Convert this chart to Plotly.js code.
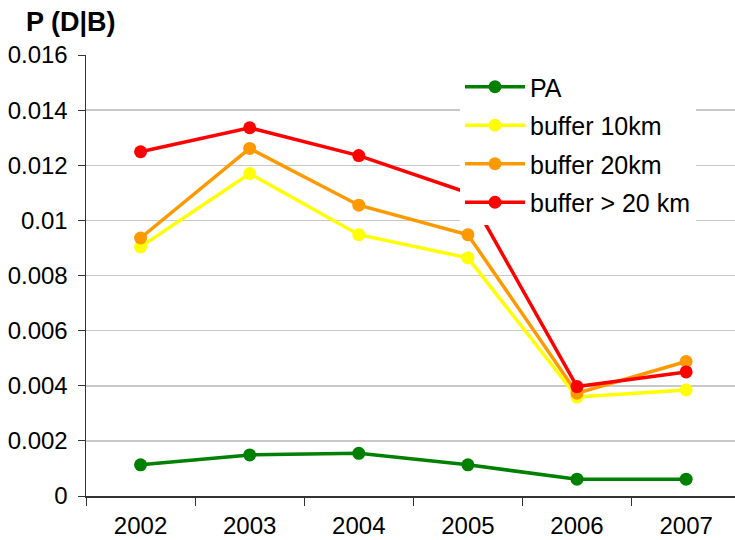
<!DOCTYPE html>
<html>
<head>
<meta charset="utf-8">
<script src="https://cdn.plot.ly/plotly-3.0.1.min.js"></script>
<style>html,body{margin:0;padding:0;background:#fff;}#chart{width:735px;height:540px;}</style>
</head>
<body>
<div id="chart"></div>
<script>
const years = ["2002", "2003", "2004", "2005", "2006", "2007"];
const seriesNames = ["PA", "buffer 10km", "buffer 20km", "buffer > 20 km"];
const pa = [0.00113, 0.00149, 0.00155, 0.00113, 0.00061, 0.00061];
const buffer10 = [0.00904, 0.0117, 0.00948, 0.00864, 0.00359, 0.00385];
const buffer20 = [0.00936, 0.01261, 0.01055, 0.00948, 0.00373, 0.00488];
const bufferOver20 = [0.01249, 0.01336, 0.01235, 0.0110, 0.00397, 0.0045];
const colors = ["#008000", "#FFFF00", "#FF9900", "#FF0000"];
const yTicks = [0, 0.002, 0.004, 0.006, 0.008, 0.01, 0.012, 0.014, 0.016];
const yTickText = ["0", "0.002", "0.004", "0.006", "0.008", "0.01", "0.012", "0.014", "0.016"];

const values = [pa, buffer10, buffer20, bufferOver20];
const traces = values.map((v, i) => ({
  x: years, y: v, name: seriesNames[i], type: "scatter", mode: "lines+markers",
  legendgroup: "g" + i,
  line: {color: colors[i], width: 3.5},
  marker: {color: colors[i], size: 13},
  hoverinfo: "skip"
}));

const font = "Liberation Sans, Arial, sans-serif";
const layout = {
  width: 735, height: 540,
  margin: {l: 86, r: 0, t: 55, b: 44, pad: 0},
  paper_bgcolor: "#fff", plot_bgcolor: "#fff",
  font: {family: font, size: 24, color: "#000"},
  title: {text: "<b>P (D|B)</b>", font: {family: font, size: 27, color: "#000"},
    xref: "container", yref: "container", x: 26/735, xanchor: "left", y: 1 - 22/540, yanchor: "middle"},
  xaxis: {type: "category", range: [-0.5, 5.448], tickson: "boundaries", ticks: "outside", ticklen: 8,
    tickcolor: "#333", showline: true, linecolor: "#333", linewidth: 1.5, showgrid: false,
    tickfont: {size: 24}, ticklabelstandoff: 8, zeroline: false, fixedrange: true},
  yaxis: {range: [0, 0.016], tickvals: yTicks, ticktext: yTickText, ticks: "outside", ticklen: 7,
    tickcolor: "#333", showline: true, linecolor: "#333", linewidth: 1.5, showgrid: true,
    gridcolor: "#c8c8c8", gridwidth: 1.5, zeroline: false, tickfont: {size: 24}, ticklabelstandoff: 5, fixedrange: true},
  legend: {x: (460-86)/649, y: (496-64)/441, xanchor: "left", yanchor: "top",
    bgcolor: "#fff", borderwidth: 0, font: {size: 25}, itemwidth: 60, tracegroupgap: 3},
  showlegend: true
};
Plotly.newPlot("chart", traces, layout, {staticPlot: true, displayModeBar: false});
</script>
</body>
</html>
